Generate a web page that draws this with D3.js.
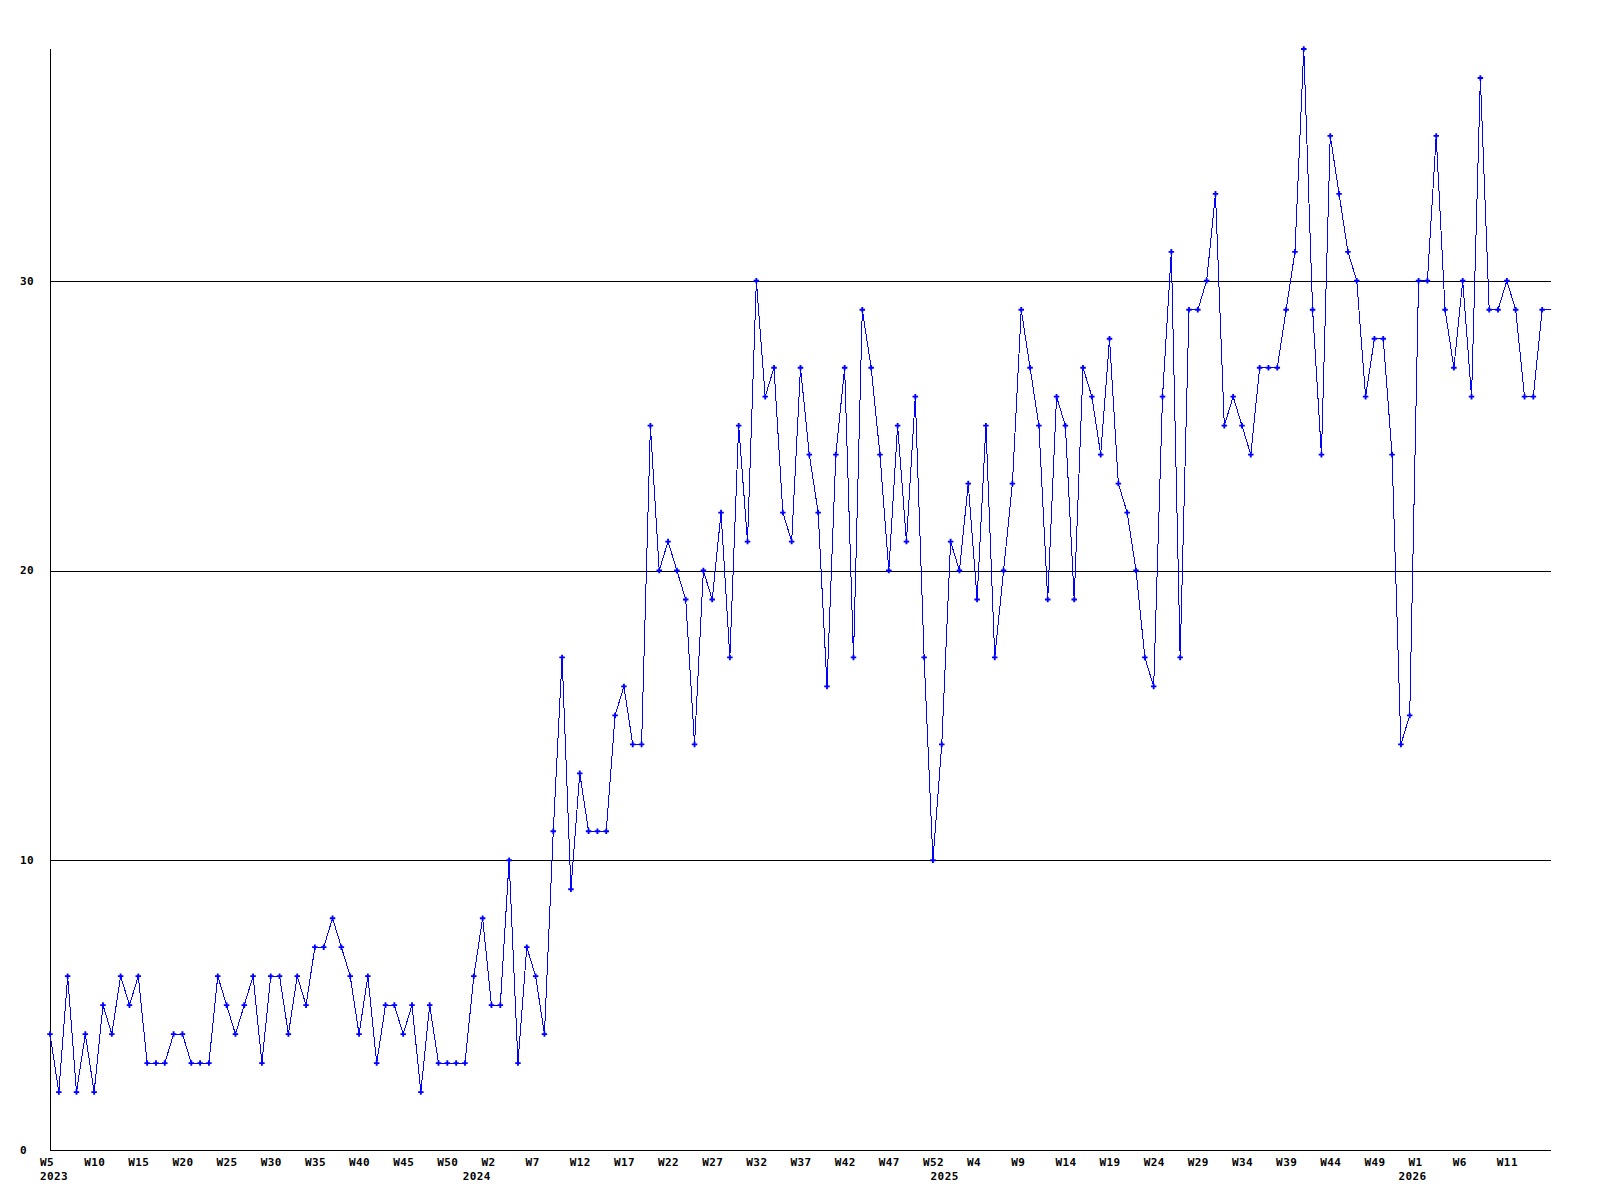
<!DOCTYPE html>
<html>
<head>
<meta charset="utf-8">
<script src="https://cdn.jsdelivr.net/npm/d3@7"></script>
<style>
  html, body { margin: 0; padding: 0; background: #fff; }
  svg text { font-family: 'DejaVu Sans Mono', 'Liberation Mono', monospace; font-weight: bold; font-size: 11px; letter-spacing: 0.4px; fill: #000; }
</style>
</head>
<body>
<div id="app"></div>
<script>
const width = 1600;
const height = 1200;

// weekly counts, 2023 W5 onwards
const values = [
  4, 2, 6, 2, 4, 2, 5, 4, 6, 5,
  6, 3, 3, 3, 4, 4, 3, 3, 3, 6,
  5, 4, 5, 6, 3, 6, 6, 4, 6, 5,
  7, 7, 8, 7, 6, 4, 6, 3, 5, 5,
  4, 5, 2, 5, 3, 3, 3, 3, 6, 8,
  5, 5, 10, 3, 7, 6, 4, 11, 17, 9,
  13, 11, 11, 11, 15, 16, 14, 14, 25, 20,
  21, 20, 19, 14, 20, 19, 22, 17, 25, 21,
  30, 26, 27, 22, 21, 27, 24, 22, 16, 24,
  27, 17, 29, 27, 24, 20, 25, 21, 26, 17,
  10, 14, 21, 20, 23, 19, 25, 17, 20, 23,
  29, 27, 25, 19, 26, 25, 19, 27, 26, 24,
  28, 23, 22, 20, 17, 16, 26, 31, 17, 29,
  29, 30, 33, 25, 26, 25, 24, 27, 27, 27,
  29, 31, 38, 29, 24, 35, 33, 31, 30, 26,
  28, 28, 24, 14, 15, 30, 30, 35, 29, 27,
  30, 26, 37, 29, 29, 30, 29, 26, 26, 29,
  29,
];

// one label every 5th week
const weekLabels = [
  'W5', 'W10', 'W15', 'W20', 'W25', 'W30', 'W35', 'W40', 'W45', 'W50',
  'W2', 'W7', 'W12', 'W17', 'W22', 'W27', 'W32', 'W37', 'W42', 'W47',
  'W52', 'W4', 'W9', 'W14', 'W19', 'W24', 'W29', 'W34', 'W39', 'W44',
  'W49', 'W1', 'W6', 'W11',
];
const weekStep = 5;

const yearLabels = ['2023', '2024', '2025', '2026'];
const yearStart = [0, 49, 102, 155]; // index of first week of each year

const yTicks = [0, 10, 20, 30];
const yMax = 38;

const margin = {left: 50, right: 49, top: 49, bottom: 50};

const x = d3.scaleLinear()
  .domain([0, values.length - 1])
  .range([margin.left, width - margin.right]);

const y = d3.scaleLinear()
  .domain([0, yMax])
  .range([height - margin.bottom, margin.top]);

const svg = d3.create('svg')
  .attr('width', width)
  .attr('height', height)
  .attr('viewBox', [0, 0, width, height]);

svg.append('rect')
  .attr('width', width)
  .attr('height', height)
  .attr('fill', '#fff');

// horizontal grid
svg.append('g')
  .attr('stroke', '#000')
  .attr('shape-rendering', 'crispEdges')
  .selectAll('line')
  .data(yTicks.filter((d)=>d > 0))
  .join('line')
  .attr('x1', x(0))
  .attr('x2', x(values.length - 1))
  .attr('y1', (d)=>Math.round(y(d)) + 0.5)
  .attr('y2', (d)=>Math.round(y(d)) + 0.5);

// axes
const axes = svg.append('g')
  .attr('stroke', '#000')
  .attr('shape-rendering', 'crispEdges');
axes.append('line')
  .attr('x1', x(0) + 0.5)
  .attr('x2', x(0) + 0.5)
  .attr('y1', y(yMax))
  .attr('y2', y(0) + 0.5);
axes.append('line')
  .attr('x1', x(0))
  .attr('x2', x(values.length - 1))
  .attr('y1', Math.round(y(0)) + 0.5)
  .attr('y2', Math.round(y(0)) + 0.5);

// y labels
svg.append('g')
  .selectAll('text')
  .data(yTicks)
  .join('text')
  .attr('x', 20)
  .attr('y', (d)=>y(d))
  .attr('dy', '0.35em')
  .text((d)=>d);

// week labels
svg.append('g')
  .selectAll('text')
  .data(weekLabels)
  .join('text')
  .attr('x', (d, i)=>x(i * weekStep) - 10)
  .attr('y', height - margin.bottom + 16)
  .text((d)=>d);

// year labels
svg.append('g')
  .selectAll('text')
  .data(yearLabels)
  .join('text')
  .attr('x', (d, i)=>Math.max(x(yearStart[i]) - 20, x(0) - 10))
  .attr('y', height - margin.bottom + 30)
  .text((d)=>d);

const line = d3.line()
  .x((d, i)=>x(i))
  .y((d)=>y(d));

svg.append('path')
  .datum(values)
  .attr('fill', 'none')
  .attr('stroke', '#0000ff')
  .attr('stroke-width', 1)
  .attr('shape-rendering', 'crispEdges')
  .attr('d', line);

const marker = d3.symbol(d3.symbolCross, 17);
svg.append('g')
  .attr('fill', '#0000ff')
  .selectAll('path')
  .data(values.slice(0, -1))
  .join('path')
  .attr('transform', (d, i)=>`translate(${x(i)},${y(d)})`)
  .attr('d', marker);

document.getElementById('app').appendChild(svg.node());
</script>
</body>
</html>
